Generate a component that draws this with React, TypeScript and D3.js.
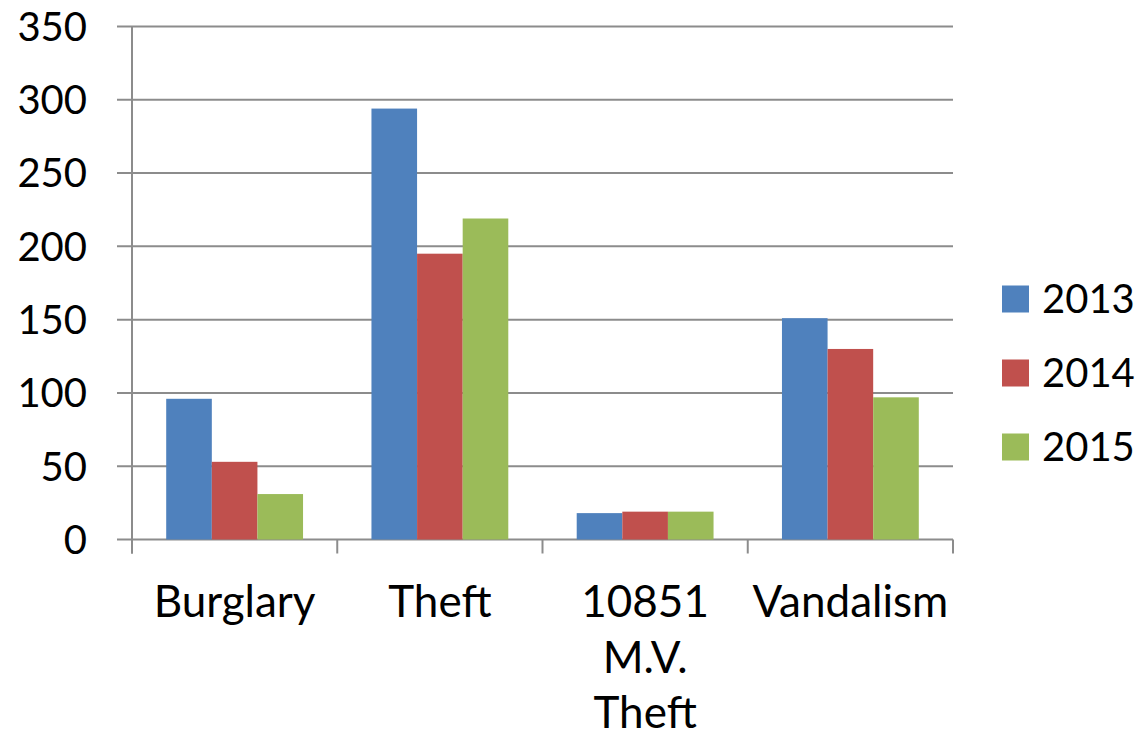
import React, { useEffect, useRef } from 'react';
import * as d3 from 'd3';

const categories = ['Burglary', 'Theft', '10851 M.V. Theft', 'Vandalism'];
const years = ['2013', '2014', '2015'];
const values2013 = [96, 294, 18, 151];
const values2014 = [53, 195, 19, 130];
const values2015 = [31, 219, 19, 97];
const yTicks = [0, 50, 100, 150, 200, 250, 300, 350];
const colors = ['#4F81BD', '#C0504D', '#9BBB59'];

const FONT = 'Lato, "Open Sans", sans-serif';

export default function App() {
  const ref = useRef<SVGSVGElement>(null);

  useEffect(() => {
    const svg = d3.select(ref.current);
    svg.selectAll('*').remove();

    const left = 132;
    const right = 953;
    const top = 26.5;
    const bottom = 539.5;
    const series = [values2013, values2014, values2015];

    const x0 = d3.scaleBand().domain(categories).range([left, right]).paddingInner(0).paddingOuter(0);
    const x1 = d3.scaleBand().domain(years).range([0, x0.bandwidth()]).paddingInner(0).paddingOuter(0.75);
    const y = d3.scaleLinear().domain([0, 350]).range([bottom, top]);

    // gridlines
    svg.append('g')
      .selectAll('line')
      .data(yTicks)
      .enter()
      .append('line')
      .attr('x1', left - 15)
      .attr('x2', right)
      .attr('y1', (d) => y(d))
      .attr('y2', (d) => y(d))
      .attr('stroke', '#8c8c8c')
      .attr('stroke-width', 2);

    // left axis line
    svg.append('line')
      .attr('x1', left).attr('x2', left)
      .attr('y1', top).attr('y2', bottom + 14)
      .attr('stroke', '#8c8c8c').attr('stroke-width', 2);

    // category ticks
    const bounds = categories.map((c) => x0(c) as number).concat([right]);
    svg.append('g')
      .selectAll('line')
      .data(bounds)
      .enter()
      .append('line')
      .attr('x1', (d) => d).attr('x2', (d) => d)
      .attr('y1', bottom).attr('y2', bottom + 14)
      .attr('stroke', '#8c8c8c').attr('stroke-width', 2);

    // bars
    series.forEach((vals, i) => {
      svg.append('g')
        .selectAll('rect')
        .data(vals)
        .enter()
        .append('rect')
        .attr('x', (d, j) => (x0(categories[j]) as number) + (x1(years[i]) as number))
        .attr('y', (d) => y(d))
        .attr('width', x1.bandwidth())
        .attr('height', (d) => bottom - y(d))
        .attr('fill', colors[i]);
    });

    // y labels
    svg.append('g')
      .selectAll('text')
      .data(yTicks)
      .enter()
      .append('text')
      .attr('x', 87)
      .attr('y', (d) => y(d))
      .attr('dy', '0.36em')
      .attr('text-anchor', 'end')
      .attr('font-family', FONT)
      .attr('font-size', 40)
      .attr('fill', '#000')
      .text((d) => d);

    // category labels, one word per line if label has several words
    categories.forEach((c) => {
      const words = c.split(' ');
      const t = svg.append('text')
        .attr('text-anchor', 'middle')
        .attr('font-family', FONT)
        .attr('font-size', 44)
        .attr('fill', '#000');
      words.forEach((w, k) => {
        t.append('tspan')
          .attr('x', (x0(c) as number) + x0.bandwidth() / 2)
          .attr('y', 617 + k * 55.5)
          .text(w);
      });
    });

    // legend
    years.forEach((yr, i) => {
      const cy = 299 + i * 74;
      svg.append('rect')
        .attr('x', 1002).attr('y', cy - 13.5)
        .attr('width', 27).attr('height', 27)
        .attr('fill', colors[i]);
      svg.append('text')
        .attr('x', 1042).attr('y', cy)
        .attr('dy', '0.36em')
        .attr('font-family', FONT)
        .attr('font-size', 40)
        .attr('fill', '#000')
        .text(yr);
    });
  }, []);

  return (
    <svg ref={ref} width={1140} height={734}
      style={{ position: 'absolute', left: 0, top: 0, background: '#fff' }} />
  );
}
